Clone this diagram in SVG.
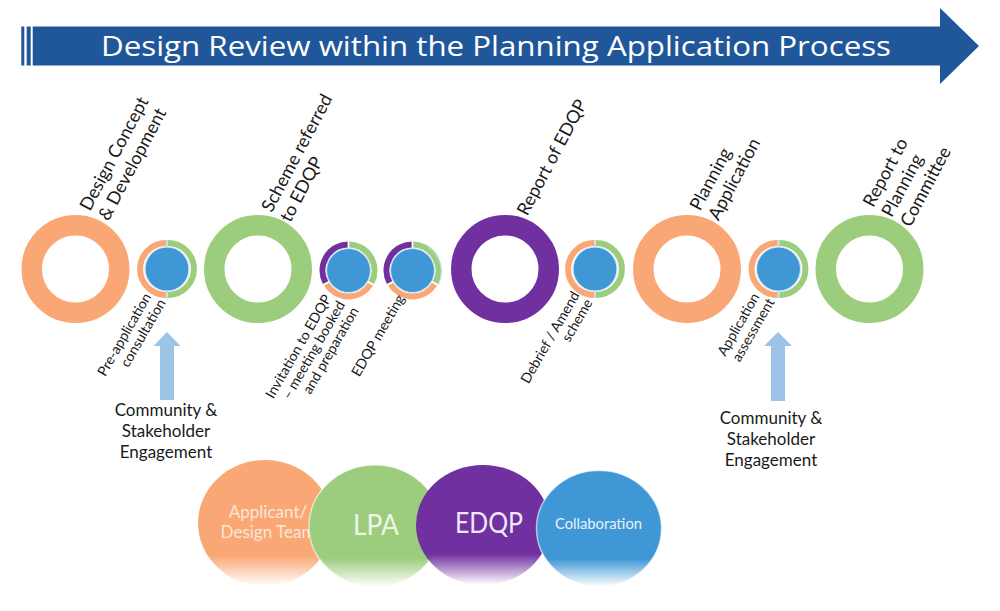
<svg xmlns="http://www.w3.org/2000/svg" width="1000" height="611" viewBox="0 0 1000 611">
<defs>
<style>
.ring{fill:none;stroke-width:20.5}
.seg{fill:none;stroke-width:6}
.core{fill:#3F97D6;stroke:#D2E5F6;stroke-width:1.2}
.sep{stroke:#BDD7EE;stroke-width:1.6}
.big{font-family:Lato,"Open Sans",sans-serif;font-size:18px;fill:#1a1a1a}
.small{font-family:Lato,"Open Sans",sans-serif;font-size:14px;fill:#1a1a1a;text-anchor:end}
.comm{font-family:Lato,"Open Sans",sans-serif;font-size:17px;fill:#1a1a1a;text-anchor:middle}
.bt{font-family:Lato,"Open Sans",sans-serif;text-anchor:middle}
.or{stroke:#F9A875}.gr{stroke:#9BCD7D}.pu{stroke:#7030A0}
</style>
<linearGradient id="gO" x1="0" y1="0" x2="0" y2="1"><stop offset="0" stop-color="#F9A875"/><stop offset="0.76" stop-color="#F9A875"/><stop offset="1" stop-color="#F9A875" stop-opacity="0"/></linearGradient>
<linearGradient id="gG" x1="0" y1="0" x2="0" y2="1"><stop offset="0" stop-color="#9BCD7D"/><stop offset="0.76" stop-color="#9BCD7D"/><stop offset="1" stop-color="#9BCD7D" stop-opacity="0"/></linearGradient>
<linearGradient id="gP" x1="0" y1="0" x2="0" y2="1"><stop offset="0" stop-color="#7030A0"/><stop offset="0.74" stop-color="#7030A0"/><stop offset="1" stop-color="#7030A0" stop-opacity="0"/></linearGradient>
<linearGradient id="gB" x1="0" y1="0" x2="0" y2="1"><stop offset="0" stop-color="#3F97D6"/><stop offset="0.76" stop-color="#3F97D6"/><stop offset="1" stop-color="#3F97D6" stop-opacity="0"/></linearGradient>
</defs>
<rect width="1000" height="611" fill="#ffffff"/>

<g id="title">
<rect x="21.3" y="26.5" width="3" height="39" fill="#20569A"/>
<rect x="26.7" y="26.5" width="4" height="39" fill="#20569A"/>
<polygon points="32.7,26.5 940,26.5 940,8 979,46 940,84 940,65.5 32.7,65.5" fill="#20569A"/>
<text x="101" y="56" font-family="'Open Sans',Lato,sans-serif" font-size="28" fill="#ffffff" textLength="790" lengthAdjust="spacingAndGlyphs">Design Review within the Planning Application Process</text>
</g>

<g id="connectors">
<path d="M160,400 L160,346 L153.5,346 L167,332 L180.5,346 L174,346 L174,400 Z" fill="#9DC3E6"/>
<path d="M771,401 L771,346 L764,346 L778,332 L792,346 L785,346 L785,401 Z" fill="#9DC3E6"/>
</g>

<g id="design-concept">
<circle cx="75.5" cy="269" r="43.75" class="ring or"/>
<text class="big" transform="translate(90,212) rotate(-62)"><tspan x="0" y="0">Design Concept</tspan><tspan x="0" y="21">&amp; Development</tspan></text>
</g>

<g id="pre-application">
<circle cx="167" cy="269" r="22" class="core"/>
<path d="M167.9,243 A26,26 0 0 1 167.9,295" class="seg gr"/>
<path d="M166.1,295 A26,26 0 0 1 166.1,243" class="seg or"/>
<line x1="167" y1="240" x2="167" y2="247.5" class="sep"/>
<line x1="167" y1="290.5" x2="167" y2="298" class="sep"/>
<text class="small" transform="translate(151.7,296.7) rotate(-60)"><tspan x="0" y="0">Pre-application</tspan><tspan x="2" y="15.5">consultation</tspan></text>
</g>

<g id="scheme-referred">
<circle cx="258" cy="269" r="43.75" class="ring gr"/>
<text class="big" transform="translate(271.7,213.3) rotate(-62)"><tspan x="0" y="0">Scheme referred</tspan><tspan x="0" y="21">to EDQP</tspan></text>
</g>

<g id="invitation">
<circle cx="348.5" cy="270.5" r="22" class="core"/>
<path d="M349.4,244.5 A26,26 0 0 1 371.46,282.71" class="seg gr"/>
<path d="M370.55,284.28 A26,26 0 0 1 326.45,284.28" class="seg or"/>
<path d="M325.54,282.71 A26,26 0 0 1 347.6,244.5" class="seg pu"/>
<text class="small" transform="translate(331.7,298.3) rotate(-60)"><tspan x="0" y="0">Invitation to EDQP</tspan><tspan x="1.5" y="15">– meeting booked</tspan><tspan x="3" y="30">and preparation</tspan></text>
</g>

<g id="edqp-meeting">
<circle cx="412.5" cy="270.5" r="22" class="core"/>
<path d="M413.4,244.5 A26,26 0 0 1 435.46,282.71" class="seg gr"/>
<path d="M434.55,284.28 A26,26 0 0 1 390.45,284.28" class="seg or"/>
<path d="M389.54,282.71 A26,26 0 0 1 411.6,244.5" class="seg pu"/>
<path d="M427.25,246.95 A29.5,29.5 0 0 1 438.23,284.87" fill="none" stroke="#BDD7EE" stroke-width="1"/>
<text class="small" transform="translate(405,298.3) rotate(-60)"><tspan x="0" y="0">EDQP meeting</tspan></text>
</g>

<g id="report-of-edqp">
<circle cx="505" cy="269" r="43.75" class="ring pu"/>
<text class="big" transform="translate(527.3,216.7) rotate(-62)">Report of EDQP</text>
</g>

<g id="debrief">
<circle cx="595" cy="269" r="22" class="core"/>
<path d="M595.9,243 A26,26 0 0 1 595.9,295" class="seg gr"/>
<path d="M594.1,295 A26,26 0 0 1 594.1,243" class="seg or"/>
<line x1="595" y1="240" x2="595" y2="247.5" class="sep"/>
<line x1="595" y1="290.5" x2="595" y2="298" class="sep"/>
<text class="small" transform="translate(580,295) rotate(-60)"><tspan x="0" y="0">Debrief / Amend</tspan><tspan x="0" y="15">scheme</tspan></text>
</g>

<g id="planning-application">
<circle cx="687" cy="269" r="43.75" class="ring or"/>
<text class="big" transform="translate(700,211.7) rotate(-62)"><tspan x="0" y="0">Planning</tspan><tspan x="0" y="21">Application</tspan></text>
</g>

<g id="application-assessment">
<circle cx="778.5" cy="269" r="22" class="core"/>
<path d="M779.4,243 A26,26 0 0 1 779.4,295" class="seg gr"/>
<path d="M777.6,295 A26,26 0 0 1 777.6,243" class="seg or"/>
<line x1="778.5" y1="240" x2="778.5" y2="247.5" class="sep"/>
<line x1="778.5" y1="290.5" x2="778.5" y2="298" class="sep"/>
<text class="small" transform="translate(760,296.7) rotate(-60)"><tspan x="0" y="0">Application</tspan><tspan x="3" y="15.5">assessment</tspan></text>
</g>

<g id="report-to-committee">
<circle cx="869.5" cy="269" r="43.75" class="ring gr"/>
<text class="big" transform="translate(873.3,208.3) rotate(-62)"><tspan x="0" y="0">Report to</tspan><tspan x="0" y="21">Planning</tspan><tspan x="0" y="42">Committee</tspan></text>
</g>

<g id="community-1">
<text class="comm"><tspan x="166" y="416">Community &amp;</tspan><tspan x="166" y="437">Stakeholder</tspan><tspan x="166" y="458">Engagement</tspan></text>
</g>

<g id="community-2">
<text class="comm"><tspan x="771" y="424">Community &amp;</tspan><tspan x="771" y="445">Stakeholder</tspan><tspan x="771" y="466">Engagement</tspan></text>
</g>

<g id="applicant">
<ellipse cx="265" cy="523" rx="67" ry="63" fill="url(#gO)"/>
<text class="bt" font-size="17" fill="#FCE6D8"><tspan x="268" y="518">Applicant/</tspan><tspan x="268" y="537.5">Design Team</tspan></text>
</g>

<g id="lpa">
<ellipse cx="375" cy="526" rx="66" ry="61" fill="url(#gG)" stroke="#ffffff" stroke-opacity="0.6" stroke-width="1.5"/>
<text class="bt" x="376" y="535" font-size="29" fill="#EEF6E9" textLength="46" lengthAdjust="spacingAndGlyphs">LPA</text>
</g>

<g id="edqp">
<ellipse cx="483" cy="525" rx="67" ry="60" fill="url(#gP)"/>
<text class="bt" x="489" y="533" font-size="29" fill="#F1E8F7" textLength="68" lengthAdjust="spacingAndGlyphs">EDQP</text>
</g>

<g id="collaboration">
<ellipse cx="599" cy="528.5" rx="62.5" ry="58" fill="url(#gB)" stroke="#ffffff" stroke-opacity="0.6" stroke-width="1.5"/>
<text class="bt" x="598.5" y="529" font-size="15.5" fill="#EAF2FB" textLength="87" lengthAdjust="spacingAndGlyphs">Collaboration</text>
</g>
</svg>
